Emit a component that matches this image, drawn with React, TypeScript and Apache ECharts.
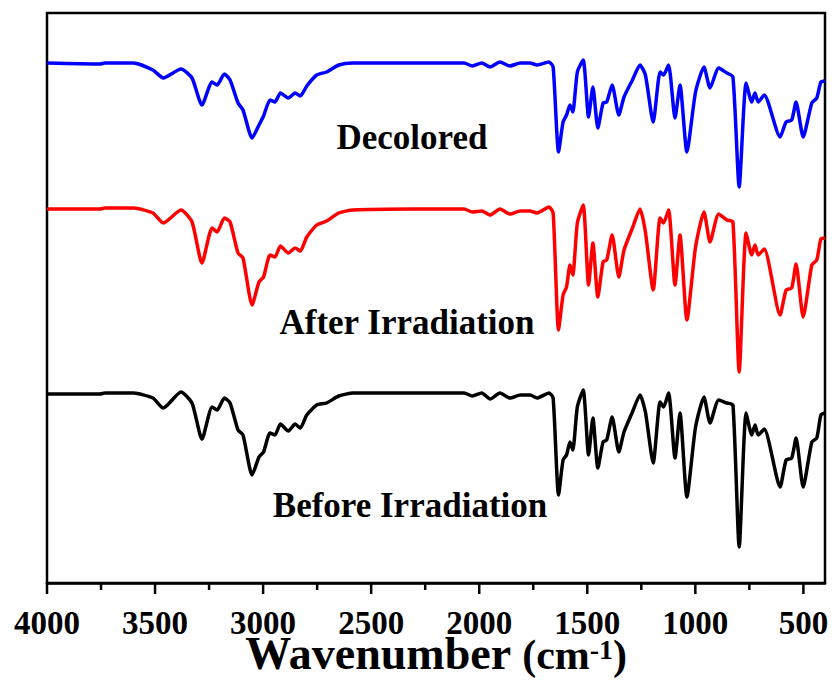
import React, { useEffect, useRef } from "react";
import * as echarts from "echarts";

// Wavenumbers (cm^-1) at which the three spectra were read
const wavenumbers = [
  4000, 3755, 3732, 3600, 3510, 3462, 3380, 3329, 3283, 3236, 3213, 3179, 3153, 3116, 3093, 3051,
  3019, 2998, 2968, 2945, 2920, 2883, 2852, 2828, 2798, 2752, 2706, 2650, 2584, 2306, 2150, 2070,
  2032, 1988, 1950, 1904, 1858, 1810, 1765, 1732, 1677, 1658, 1633, 1612, 1596, 1580, 1567, 1546,
  1519, 1494, 1474, 1451, 1427, 1410, 1385, 1354, 1330, 1291, 1256, 1231, 1195, 1163, 1147, 1124,
  1094, 1071, 1039, 999, 960, 932, 892, 854, 826, 797, 765, 739, 724, 709, 681, 608,
  580, 554, 534, 501, 461, 438, 419, 400,
];

// Transmittance (offset, arbitrary units)
const decolored = [
  520, 519, 520, 520, 513, 505, 514, 505, 478, 501, 498, 509, 503, 480, 473, 445,
  458, 467, 483, 481, 490, 485, 490, 487, 497, 508, 511, 518, 520, 520, 520, 520,
  517, 520, 516, 521, 517, 520, 520, 518, 521, 516, 431, 461, 468, 478, 471, 511,
  523, 466, 496, 455, 480, 481, 498, 468, 486, 503, 518, 508, 461, 511, 508, 518,
  465, 498, 431, 491, 516, 495, 515, 510, 506, 396, 500, 481, 490, 481, 488, 446,
  461, 463, 481, 446, 480, 485, 501, 502,
];

const afterIrradiation = [
  374, 374, 375, 375, 370, 360, 373, 361, 320, 355, 351, 365, 361, 330, 325, 278,
  301, 306, 328, 326, 337, 330, 335, 332, 346, 358, 362, 370, 373, 374, 374, 374,
  371, 372, 368, 374, 369, 372, 372, 370, 376, 370, 253, 288, 296, 318, 308, 360,
  378, 298, 340, 286, 321, 323, 348, 306, 333, 355, 374, 351, 293, 365, 360, 373,
  298, 348, 263, 336, 371, 341, 369, 363, 361, 211, 350, 328, 338, 328, 334, 268,
  293, 295, 319, 266, 318, 323, 344, 345,
];

const beforeIrradiation = [
  189, 189, 190, 190, 185, 175, 191, 180, 144, 176, 173, 185, 180, 153, 148, 108,
  126, 131, 150, 148, 159, 152, 159, 155, 168, 178, 180, 187, 190, 190, 190, 190,
  187, 190, 184, 190, 185, 188, 188, 185, 190, 185, 88, 123, 128, 141, 133, 176,
  193, 128, 165, 115, 141, 143, 166, 131, 151, 171, 188, 171, 120, 181, 176, 190,
  125, 170, 86, 156, 186, 160, 183, 180, 178, 36, 170, 148, 158, 148, 154, 96,
  123, 125, 145, 96, 141, 145, 168, 170,
];

const majorTicks = [500, 1000, 1500, 2000, 2500, 3000, 3500, 4000];
const minorTicks = [750, 1250, 1750, 2250, 2750, 3250, 3750];

const seriesNames = ["Decolored", "After Irradiation", "Before Irradiation"];
const seriesColors = ["#0000ff", "#ff0000", "#000000"];

const FONT = "'Liberation Serif', 'Times New Roman', serif";

function tickSeries(values: number[], length: number) {
  return {
    type: "custom",
    coordinateSystem: "cartesian2d",
    xAxisIndex: 0,
    yAxisIndex: 0,
    silent: true,
    clip: false,
    z: 10,
    data: values.map((w) => [w, 0]),
    renderItem: (_params: any, api: any) => {
      const p = api.coord([api.value(0), api.value(1)]);
      return {
        type: "rect",
        shape: { x: p[0] - 1.25, y: p[1], width: 2.5, height: length },
        style: { fill: "#000" },
      };
    },
  };
}

export default function App() {
  const ref = useRef<HTMLDivElement>(null);

  useEffect(() => {
    if (!ref.current) return;
    const chart = echarts.init(ref.current, null, { renderer: "svg" });
    const allData = [decolored, afterIrradiation, beforeIrradiation];

    const lineSeries = allData.map((vals, i) => ({
      name: seriesNames[i],
      type: "line",
      data: wavenumbers.map((w, j) => [w, vals[j]]),
      showSymbol: false,
      smooth: 0.2,
      lineStyle: { color: seriesColors[i], width: 3.5 },
      itemStyle: { color: seriesColors[i] },
    }));

    const option: any = {
      animation: false,
      backgroundColor: "#ffffff",
      grid: {
        left: 47,
        right: 9,
        top: 13,
        bottom: 101,
        show: true,
        borderColor: "#000",
        borderWidth: 2.5,
        backgroundColor: "transparent",
        containLabel: false,
        outerBoundsMode: "none",
      },
      xAxis: {
        type: "value",
        min: 400,
        max: 4000,
        inverse: true,
        position: "bottom",
        axisLine: { show: true, onZero: false, lineStyle: { color: "#000", width: 2.5 } },
        axisTick: { show: false },
        axisLabel: {
          show: true,
          customValues: majorTicks,
          formatter: (v: number) => String(v),
          margin: 23,
          color: "#000",
          fontFamily: FONT,
          fontWeight: "bold",
          fontSize: 33,
        },
        splitLine: { show: false },
        name: "{a|Wavenumber }{b|(cm}{c|-1}{b|)}",
        nameLocation: "middle",
        nameGap: 55,
        nameMoveOverlap: false,
        nameTextStyle: {
          color: "#000",
          fontFamily: FONT,
          fontWeight: "bold",
          rich: {
            a: { fontFamily: FONT, fontWeight: "bold", fontSize: 46, lineHeight: 38, color: "#000", verticalAlign: "bottom" },
            b: { fontFamily: FONT, fontWeight: "bold", fontSize: 42, lineHeight: 38, color: "#000", verticalAlign: "bottom" },
            c: {
              fontFamily: FONT,
              fontWeight: "bold",
              fontSize: 28,
              lineHeight: 25,
              color: "#000",
              verticalAlign: "bottom",
              padding: [0, 0, 13, 0],
            },
          },
        },
      },
      yAxis: {
        type: "value",
        min: 0,
        max: 570,
        show: false,
        splitLine: { show: false },
      },
      series: [...lineSeries, tickSeries(majorTicks, 11), tickSeries(minorTicks, 7)],
      graphic: [
        {
          type: "text",
          x: 412,
          y: 137,
          style: {
            text: "Decolored",
            font: `bold 35px ${FONT}`,
            fill: "#000",
            align: "center",
            verticalAlign: "middle",
          },
        },
        {
          type: "text",
          x: 407,
          y: 322,
          style: {
            text: "After Irradiation",
            font: `bold 35px ${FONT}`,
            fill: "#000",
            align: "center",
            verticalAlign: "middle",
          },
        },
        {
          type: "text",
          x: 410,
          y: 505,
          style: {
            text: "Before Irradiation",
            font: `bold 35px ${FONT}`,
            fill: "#000",
            align: "center",
            verticalAlign: "middle",
          },
        },
      ],
    };

    chart.setOption(option);
    return () => chart.dispose();
  }, []);

  return (
    <div
      ref={ref}
      style={{ position: "fixed", left: 0, top: 0, width: 834, height: 684, background: "#fff" }}
    />
  );
}
